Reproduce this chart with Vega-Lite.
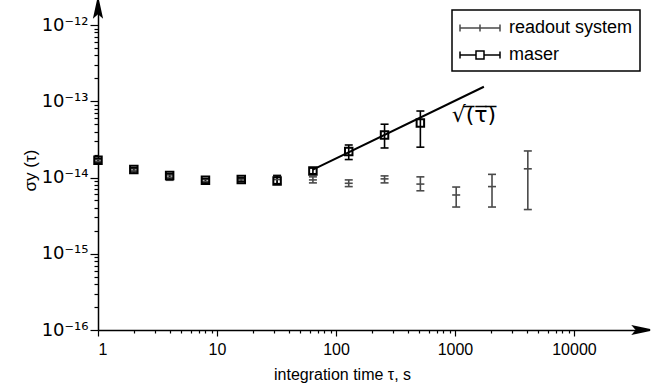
{
  "$schema": "https://vega.github.io/schema/vega-lite/v6.json",
  "width": 542,
  "height": 320,
  "autosize": {"type": "none"},
  "padding": {"left": 98, "top": 10, "right": 26, "bottom": 57},
  "background": "white",
  "config": {
    "view": {"stroke": null},
    "font": "Liberation Sans",
    "axis": {"grid": false, "domainColor": "black", "tickColor": "black", "labelColor": "black", "titleColor": "black", "domainWidth": 1.5, "tickWidth": 1.2, "titleFontWeight": "normal"},
    "legend": {"orient": "top-right", "offset": 0, "strokeColor": "black", "strokeWidth": 1.5, "padding": 7, "labelFontSize": 18, "labelColor": "black", "symbolSize": 400, "rowPadding": 7, "labelOffset": 28, "symbolStrokeWidth": 1.5}
  },
  "datasets": {
    "pts": [
      {"series": "readout system", "tau": 1, "y": 1.62e-14, "lo": 1.52e-14, "hi": 1.72e-14},
      {"series": "readout system", "tau": 2, "y": 1.22e-14, "lo": 1.14e-14, "hi": 1.30e-14},
      {"series": "readout system", "tau": 4, "y": 1.0e-14, "lo": 9.2e-15, "hi": 1.08e-14},
      {"series": "readout system", "tau": 8, "y": 8.9e-15, "lo": 8.3e-15, "hi": 9.5e-15},
      {"series": "readout system", "tau": 16, "y": 9.3e-15, "lo": 8.8e-15, "hi": 9.8e-15},
      {"series": "readout system", "tau": 32, "y": 9.4e-15, "lo": 8.2e-15, "hi": 1.07e-14},
      {"series": "readout system", "tau": 64, "y": 9.3e-15, "lo": 8.5e-15, "hi": 1.02e-14},
      {"series": "readout system", "tau": 128, "y": 8.4e-15, "lo": 7.6e-15, "hi": 9.3e-15},
      {"series": "readout system", "tau": 256, "y": 9.6e-15, "lo": 8.5e-15, "hi": 1.05e-14},
      {"series": "readout system", "tau": 512, "y": 8.2e-15, "lo": 6.7e-15, "hi": 1.02e-14},
      {"series": "readout system", "tau": 1024, "y": 5.9e-15, "lo": 4.1e-15, "hi": 7.5e-15},
      {"series": "readout system", "tau": 2048, "y": 7.6e-15, "lo": 4.1e-15, "hi": 1.1e-14},
      {"series": "readout system", "tau": 4096, "y": 1.3e-14, "lo": 3.8e-15, "hi": 2.23e-14},
      {"series": "maser", "tau": 1, "y": 1.68e-14, "lo": 1.58e-14, "hi": 1.78e-14},
      {"series": "maser", "tau": 2, "y": 1.27e-14, "lo": 1.2e-14, "hi": 1.34e-14},
      {"series": "maser", "tau": 4, "y": 1.06e-14, "lo": 1.0e-14, "hi": 1.12e-14},
      {"series": "maser", "tau": 8, "y": 9.2e-15, "lo": 8.7e-15, "hi": 9.7e-15},
      {"series": "maser", "tau": 16, "y": 9.4e-15, "lo": 8.9e-15, "hi": 9.9e-15},
      {"series": "maser", "tau": 32, "y": 9.0e-15, "lo": 8.3e-15, "hi": 1.05e-14},
      {"series": "maser", "tau": 64, "y": 1.22e-14, "lo": 1.12e-14, "hi": 1.33e-14},
      {"series": "maser", "tau": 128, "y": 2.2e-14, "lo": 1.72e-14, "hi": 2.67e-14},
      {"series": "maser", "tau": 256, "y": 3.6e-14, "lo": 2.44e-14, "hi": 5.0e-14},
      {"series": "maser", "tau": 512, "y": 5.2e-14, "lo": 2.5e-14, "hi": 7.45e-14}
    ],
    "fit": [
      {"tau": 64, "y": 1.27e-14},
      {"tau": 1750, "y": 1.55e-13}
    ],
    "lbl": [
      {"tau": 1445, "y": 6.6e-14, "text": "√(̅τ̅)̅"}
    ],
    "arrowUp": [{"tau": 1, "y": 1.574e-12}],
    "arrowRight": [{"tau": 35900, "y": 1e-16}]
  },
  "layer": [
    {
      "data": {"name": "pts"},
      "mark": {"type": "rule", "strokeWidth": 1.6},
      "encoding": {
        "x": {"field": "tau", "type": "quantitative", "scale": {"type": "log", "domain": [1, 35900], "nice": false},
              "axis": {"orient": "bottom", "values": [1, 10, 100, 1000, 10000], "format": "d", "tickSize": 6, "labelFontSize": 16, "labelPadding": 5, "title": "integration time τ, s", "titleFontSize": 16, "titlePadding": 9, "titleX": 244}},
        "y": {"field": "lo", "type": "quantitative", "scale": {"type": "log", "domain": [1e-16, 1.574e-12], "nice": false},
              "axis": {"orient": "left", "values": [1e-16, 1e-15, 1e-14, 1e-13, 1e-12], "tickSize": 8, "labelFontSize": 18, "labelPadding": 2, "labelFont": "DejaVu Sans",
                       "labelExpr": "'10⁻¹' + ['⁰','¹','²','³','⁴','⁵','⁶','⁷','⁸','⁹'][round(-log(datum.value)/LN10) - 10]",
                       "title": "σy (τ)", "titleFontSize": 17, "titlePadding": 2}},
        "y2": {"field": "hi"},
        "color": {"field": "series", "type": "nominal", "scale": {"domain": ["readout system", "maser"], "range": ["#4a4a4a", "#000000"]}, "legend": {"title": null}}
      }
    },
    {
      "data": {"name": "pts"},
      "mark": {"type": "point", "shape": "M-1,0H1", "size": 64, "strokeWidth": 1.6, "filled": false, "opacity": 1},
      "encoding": {
        "x": {"field": "tau", "type": "quantitative", "axis": null},
        "y": {"field": "lo", "type": "quantitative", "axis": null},
        "color": {"field": "series", "type": "nominal", "legend": {"title": null}}
      }
    },
    {
      "data": {"name": "pts"},
      "mark": {"type": "point", "shape": "M-1,0H1", "size": 64, "strokeWidth": 1.6, "filled": false, "opacity": 1},
      "encoding": {
        "x": {"field": "tau", "type": "quantitative",
              "axis": {"orient": "bottom", "values": [2,3,4,5,6,7,8,9,20,30,40,50,60,70,80,90,200,300,400,500,600,700,800,900,2000,3000,4000,5000,6000,7000,8000,9000], "tickSize": 3, "labels": false, "domain": false, "title": null}},
        "y": {"field": "hi", "type": "quantitative",
              "axis": {"orient": "left", "values": [2e-16,3e-16,4e-16,5e-16,6e-16,7e-16,8e-16,9e-16,2e-15,3e-15,4e-15,5e-15,6e-15,7e-15,8e-15,9e-15,2e-14,3e-14,4e-14,5e-14,6e-14,7e-14,8e-14,9e-14,2e-13,3e-13,4e-13,5e-13,6e-13,7e-13,8e-13,9e-13], "tickSize": 4, "labels": false, "domain": false, "title": null}},
        "color": {"field": "series", "type": "nominal", "legend": {"title": null}}
      }
    },
    {
      "data": {"name": "pts"},
      "transform": [{"filter": "datum.series === 'readout system'"}],
      "mark": {"type": "point", "shape": "M-1,0H1", "size": 64, "strokeWidth": 1.6, "filled": false, "opacity": 1},
      "encoding": {
        "x": {"field": "tau", "type": "quantitative", "axis": null},
        "y": {"field": "y", "type": "quantitative", "axis": null},
        "color": {"field": "series", "type": "nominal", "legend": {"title": null}}
      }
    },
    {
      "data": {"name": "pts"},
      "transform": [{"filter": "datum.series === 'maser'"}],
      "mark": {"type": "point", "shape": "square", "size": 56, "strokeWidth": 2, "filled": false, "opacity": 1},
      "encoding": {
        "x": {"field": "tau", "type": "quantitative", "axis": null},
        "y": {"field": "y", "type": "quantitative", "axis": null},
        "color": {"field": "series", "type": "nominal", "legend": {"title": null}}
      }
    },
    {
      "data": {"name": "pts"},
      "transform": [{"filter": "false"}],
      "mark": {"type": "point", "size": 400, "strokeWidth": 1.5, "filled": false, "opacity": 1},
      "encoding": {
        "x": {"field": "tau", "type": "quantitative", "axis": null},
        "y": {"field": "y", "type": "quantitative", "axis": null},
        "color": {"field": "series", "type": "nominal", "legend": {"title": null}},
        "shape": {"field": "series", "type": "nominal",
                  "scale": {"domain": ["readout system", "maser"], "range": ["M-1,0H3M-1,-0.35V0.35M3,-0.35V0.35M1,-0.35V0.35", "M-1,0H0.6M1.4,0H3M-1,-0.35V0.35M3,-0.35V0.35M0.6,-0.4H1.4V0.4H0.6Z"]},
                  "legend": {"title": null}}
      }
    },
    {
      "data": {"name": "fit"},
      "mark": {"type": "line", "color": "black", "strokeWidth": 2},
      "encoding": {
        "x": {"field": "tau", "type": "quantitative", "axis": null},
        "y": {"field": "y", "type": "quantitative", "axis": null}
      }
    },
    {
      "data": {"name": "lbl"},
      "mark": {"type": "text", "fontSize": 22, "font": "DejaVu Sans", "color": "black"},
      "encoding": {
        "x": {"field": "tau", "type": "quantitative", "axis": null},
        "y": {"field": "y", "type": "quantitative", "axis": null},
        "text": {"field": "text"}
      }
    },
    {
      "data": {"name": "arrowUp"},
      "mark": {"type": "point", "shape": "M0,-1L0.35,0.6L0,0.3L-0.35,0.6Z", "size": 400, "filled": true, "fill": "black", "stroke": "black", "opacity": 1, "clip": false},
      "encoding": {
        "x": {"field": "tau", "type": "quantitative", "axis": null},
        "y": {"field": "y", "type": "quantitative", "axis": null}
      }
    },
    {
      "data": {"name": "arrowRight"},
      "mark": {"type": "point", "shape": "M1,0L-0.6,0.35L-0.3,0L-0.6,-0.35Z", "size": 400, "filled": true, "fill": "black", "stroke": "black", "opacity": 1, "clip": false},
      "encoding": {
        "x": {"field": "tau", "type": "quantitative", "axis": null},
        "y": {"field": "y", "type": "quantitative", "axis": null}
      }
    }
  ],
  "resolve": {"axis": {"x": "independent", "y": "independent"}}
}
